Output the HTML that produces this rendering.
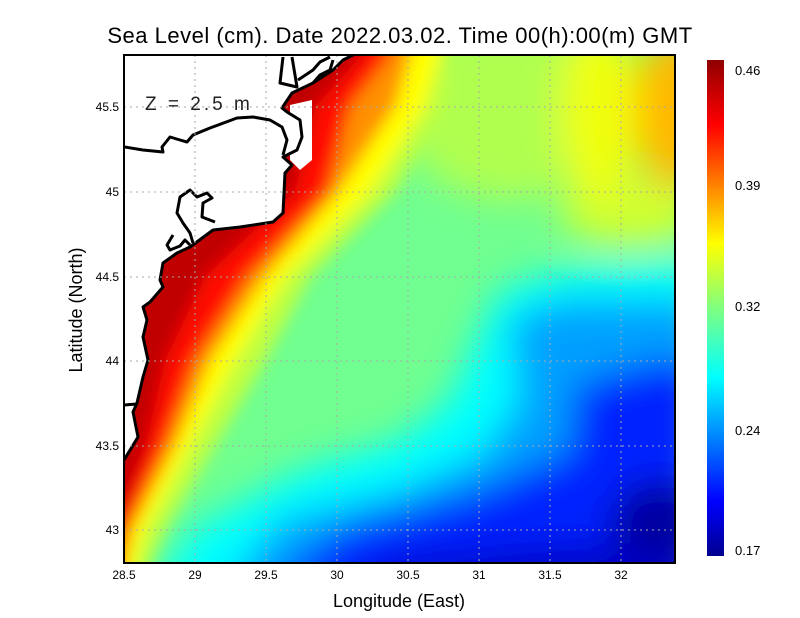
<!DOCTYPE html>
<html><head><meta charset="utf-8"><style>
body{margin:0;background:#fff;}
svg{display:block;font-family:"Liberation Sans",sans-serif;}
</style></head><body>
<svg width="800" height="618" viewBox="0 0 800 618" xmlns="http://www.w3.org/2000/svg">
<defs>
<clipPath id="pc"><rect x="124" y="55" width="551" height="508"/></clipPath>
<filter id="b1" x="-20%" y="-20%" width="140%" height="140%"><feGaussianBlur stdDeviation="18"/></filter>
<filter id="b2" x="-20%" y="-20%" width="140%" height="140%"><feGaussianBlur stdDeviation="8"/></filter>
<linearGradient id="cb" x1="0" y1="1" x2="0" y2="0">
<stop offset="0" stop-color="#00008f"/><stop offset="0.11" stop-color="#0000ff"/>
<stop offset="0.36" stop-color="#00ffff"/><stop offset="0.5" stop-color="#80ff80"/>
<stop offset="0.63" stop-color="#ffff00"/><stop offset="0.87" stop-color="#ff0000"/>
<stop offset="1" stop-color="#900000"/></linearGradient>
</defs>
<g clip-path="url(#pc)">
<rect x="100" y="30" width="600" height="560" fill="#70ff90"/>
<g filter="url(#b1)">
<ellipse cx="510" cy="110" rx="110" ry="90" fill="#b0ff50"/>
<ellipse cx="630" cy="210" rx="70" ry="35" fill="#d0ff30"/>
<ellipse cx="600" cy="110" rx="40" ry="90" fill="#f0ff10"/>
<ellipse cx="675" cy="110" rx="40" ry="80" fill="#ffb800"/>
<polygon points="150,600 190,530 300,470 400,440 450,400 480,330 500,290 560,270 700,260 700,600" fill="#00ffff"/>
<polygon points="215,600 280,520 400,490 480,455 520,400 510,320 560,300 640,300 700,300 700,600" fill="#00a0ff"/>
<polygon points="255,600 340,530 480,490 570,450 575,385 640,365 700,355 700,600" fill="#0020ff"/>
<polygon points="310,600 400,560 560,545 700,540 700,600" fill="#0000c8"/>
<ellipse cx="660" cy="520" rx="50" ry="40" fill="#0000a0"/>
</g>
<g filter="url(#b2)">
<polygon points="0,620 150,620 150,563 165,530 215,446 265,361 310,277 395,192 445,107 450,55 455,20 0,20" fill="#c0ff40"/>
<polygon points="0,620 135,620 135,563 145,530 190,446 235,361 285,277 370,192 425,107 440,55 445,20 0,20" fill="#ffff00"/>
<polygon points="0,620 124,620 124,563 132,530 175,446 210,361 265,277 338,192 395,107 410,55 415,20 0,20" fill="#ff9000"/>
<polygon points="0,620 120,620 120,563 125,530 165,446 195,361 248,277 328,192 350,107 390,55 395,20 0,20" fill="#ff1000"/>
<polygon points="0,620 110,620 112,563 115,530 146,446 165,361 205,277 295,192 315,107 362,55 365,20 0,20" fill="#c00000"/>
</g>
<!-- land -->
<polygon points="100,30 353,55 343,60 333,70 313,83 292,93 282,108 287,112 300,120 302,137 297,150 283,157 292,165 285,173 283,213 273,222 240,227 213,230 190,247 177,253 163,263 160,280 163,287 150,302 143,307 147,320 143,337 148,360 143,377 137,403 133,412 138,437 124,460 100,470" fill="#fff"/>
<polygon points="290,105 312,100 312,160 300,170 290,160" fill="#fff"/>
<g fill="none" stroke="#000" stroke-width="3" stroke-linejoin="round">
<polyline points="353,55 343,60 333,70 313,83 292,93 282,108 287,112 300,120 302,137 297,150 283,157 292,165 285,173 283,213 273,222 240,227 213,230 190,247 177,253 163,263 160,280 163,287 150,302 143,307 147,320 143,337 148,360 143,377 137,403 133,412 138,437 124,460"/>
<polyline points="125,147 143,150 163,152 162,147 170,137 180,140 187,142 193,135 210,128 237,118 253,117 270,120 282,127 287,140 283,155"/>
<polyline points="283,57 280,83 297,87 292,57"/>
<polyline points="298,80 313,70 320,62 330,57"/>
<polyline points="313,83 320,75 330,70 333,60"/>
<polyline points="193,243 190,233 183,223 177,213 180,197 190,190 197,197 207,193 212,198 203,203 202,217 215,222"/>
<polyline points="173,235 167,245 170,250 180,246 185,240 190,245"/>
<polyline points="124,405 137,404"/>
</g>
</g>
<!-- grid -->
<g stroke="#aaa" stroke-width="1" stroke-dasharray="2,4">
<line x1="195" y1="55" x2="195" y2="563"/><line x1="266" y1="55" x2="266" y2="563"/>
<line x1="337" y1="55" x2="337" y2="563"/><line x1="408" y1="55" x2="408" y2="563"/>
<line x1="479" y1="55" x2="479" y2="563"/><line x1="550" y1="55" x2="550" y2="563"/>
<line x1="621" y1="55" x2="621" y2="563"/>
<line x1="124" y1="107" x2="675" y2="107"/><line x1="124" y1="192" x2="675" y2="192"/>
<line x1="124" y1="277" x2="675" y2="277"/><line x1="124" y1="361" x2="675" y2="361"/>
<line x1="124" y1="446" x2="675" y2="446"/><line x1="124" y1="530" x2="675" y2="530"/>
</g>
<rect x="124" y="55" width="551" height="508" fill="none" stroke="#000" stroke-width="2"/>
<text x="145" y="110" font-size="19" letter-spacing="3" fill="#222">Z = 2.5 m</text>
<text x="400" y="43" font-size="22" text-anchor="middle" letter-spacing="0.5">Sea Level (cm). Date 2022.03.02. Time 00(h):00(m) GMT</text>
<g font-size="12" text-anchor="middle">
<text x="124" y="579">28.5</text><text x="195" y="579">29</text><text x="266" y="579">29.5</text>
<text x="337" y="579">30</text><text x="408" y="579">30.5</text><text x="479" y="579">31</text>
<text x="550" y="579">31.5</text><text x="621" y="579">32</text>
</g>
<g font-size="12" text-anchor="end">
<text x="119" y="111">45.5</text><text x="119" y="196">45</text><text x="119" y="281">44.5</text>
<text x="119" y="365">44</text><text x="119" y="450">43.5</text><text x="119" y="534">43</text>
</g>
<text x="399" y="607" font-size="18" text-anchor="middle">Longitude (East)</text>
<text transform="translate(82,310) rotate(-90)" font-size="18" text-anchor="middle">Latitude (North)</text>
<rect x="707" y="60" width="17" height="496" fill="url(#cb)"/>
<g font-size="13">
<text x="735" y="75">0.46</text><text x="735" y="190">0.39</text><text x="735" y="311">0.32</text>
<text x="735" y="435">0.24</text><text x="735" y="555">0.17</text>
</g>
</svg>
</body></html>
